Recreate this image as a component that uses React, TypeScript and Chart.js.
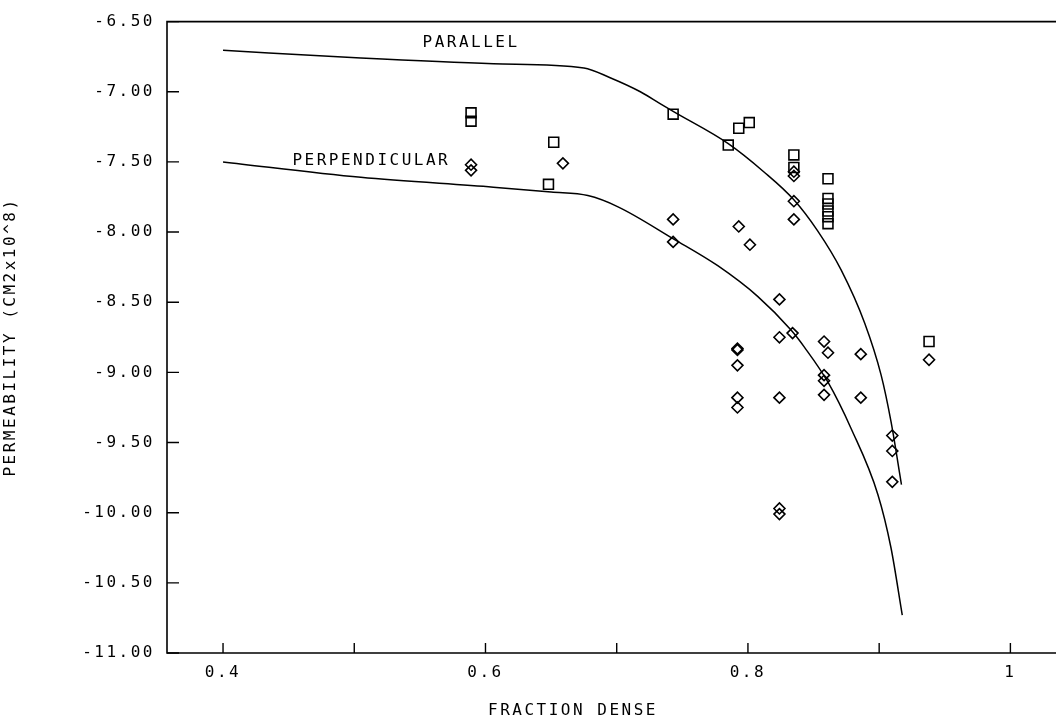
import React, { useEffect, useRef } from 'react';
import { Chart, registerables } from 'chart.js';

Chart.register(...registerables);

// ---- Data ----
const X_TICKS = [0.4, 0.5, 0.6, 0.7, 0.8, 0.9, 1.0];
const X_TICK_LABELS = ['0.4', '', '0.6', '', '0.8', '', '1'];
const Y_TICKS = [-6.5, -7.0, -7.5, -8.0, -8.5, -9.0, -9.5, -10.0, -10.5, -11.0];
const Y_TICK_LABELS = ['-6.50', '-7.00', '-7.50', '-8.00', '-8.50', '-9.00', '-9.50', '-10.00', '-10.50', '-11.00'];

const X_MIN = 0.3573;
const X_MAX = 1.0282;
const Y_MIN = -11.0;
const Y_MAX = -6.5;

// Parallel measurements (squares)
const PAR_PTS_X = [0.589, 0.589, 0.652, 0.648, 0.743, 0.785, 0.793, 0.801, 0.835, 0.835, 0.861, 0.861, 0.861, 0.861, 0.861, 0.861, 0.938];
const PAR_PTS_Y = [-7.15, -7.21, -7.36, -7.66, -7.16, -7.38, -7.26, -7.22, -7.45, -7.54, -7.62, -7.76, -7.80, -7.85, -7.89, -7.94, -8.78];

// Perpendicular measurements (diamonds)
const PERP_PTS_X = [0.589, 0.589, 0.659, 0.743, 0.743, 0.793, 0.8015, 0.835, 0.835, 0.835, 0.835, 0.824, 0.834, 0.824, 0.858, 0.861, 0.886, 0.938, 0.792, 0.792, 0.792, 0.792, 0.792, 0.824, 0.858, 0.858, 0.858, 0.886, 0.91, 0.91, 0.91, 0.824, 0.824];
const PERP_PTS_Y = [-7.52, -7.56, -7.51, -7.91, -8.07, -7.96, -8.09, -7.57, -7.60, -7.78, -7.91, -8.48, -8.72, -8.75, -8.78, -8.86, -8.87, -8.91, -8.83, -8.84, -8.95, -9.18, -9.25, -9.18, -9.02, -9.06, -9.16, -9.18, -9.45, -9.56, -9.78, -9.97, -10.01];

// Model curves
const PAR_CURVE_X = [0.4, 0.505, 0.606, 0.675, 0.695, 0.718, 0.734, 0.743, 0.785, 0.812, 0.835, 0.853, 0.871, 0.889, 0.9015, 0.909, 0.917];
const PAR_CURVE_Y = [-6.705, -6.76, -6.80, -6.83, -6.90, -7.0, -7.09, -7.14, -7.37, -7.57, -7.77, -7.99, -8.27, -8.65, -9.02, -9.35, -9.80];
const PERP_CURVE_X = [0.4, 0.505, 0.606, 0.65, 0.678, 0.701, 0.7435, 0.777, 0.8076, 0.833, 0.843, 0.861, 0.8786, 0.899, 0.909, 0.9176];
const PERP_CURVE_Y = [-7.50, -7.61, -7.68, -7.715, -7.74, -7.82, -8.05, -8.24, -8.46, -8.70, -8.82, -9.07, -9.40, -9.87, -10.25, -10.73];

// Curve labels (text + anchor in data units)
const CURVE_LABELS = ['PARALLEL', 'PERPENDICULAR'];
const CURVE_LABEL_X = [0.589, 0.513];
const CURVE_LABEL_Y = [-6.648, -7.489];

const X_TITLE = 'FRACTION DENSE';
const Y_TITLE = 'PERMEABILITY (CM2x10^8)';

const FONT_FAMILY = '"DejaVu Sans Mono", monospace';
const SPACING = '2.5px';

const zip = (xs: number[], ys: number[]) => xs.map((x, i) => ({ x, y: ys[i] }));

const framePlugin = {
  id: 'framePlugin',
  beforeDraw(chart: any) {
    chart.ctx.letterSpacing = SPACING;
  },
  afterDraw(chart: any) {
    const { ctx, chartArea: a, scales } = chart;
    ctx.save();
    ctx.strokeStyle = '#000';
    ctx.lineWidth = 1.6;
    ctx.beginPath();
    ctx.moveTo(chart.width + 2, a.top);
    ctx.lineTo(a.left, a.top);
    ctx.lineTo(a.left, a.bottom);
    ctx.lineTo(chart.width + 2, a.bottom);
    ctx.stroke();

    ctx.lineWidth = 1.4;
    ctx.beginPath();
    for (const v of X_TICKS) {
      const x = scales.x.getPixelForValue(v);
      ctx.moveTo(x, a.bottom);
      ctx.lineTo(x, a.bottom - 10);
    }
    for (const v of Y_TICKS) {
      const y = scales.y.getPixelForValue(v);
      ctx.moveTo(a.left, y);
      ctx.lineTo(a.left + 12, y);
    }
    ctx.stroke();

    ctx.fillStyle = '#000';
    ctx.letterSpacing = SPACING;
    ctx.font = `16px ${FONT_FAMILY}`;
    ctx.textAlign = 'center';
    ctx.textBaseline = 'middle';
    CURVE_LABELS.forEach((t, i) => {
      ctx.fillText(t, scales.x.getPixelForValue(CURVE_LABEL_X[i]), scales.y.getPixelForValue(CURVE_LABEL_Y[i]));
    });

    // Axis titles
    ctx.fillText(X_TITLE, 573, 711);
    ctx.translate(11, 337);
    ctx.rotate(-Math.PI / 2);
    ctx.fillText(Y_TITLE, 0, 0);
    ctx.restore();
  },
};

export default function App() {
  const ref = useRef<HTMLCanvasElement>(null);

  useEffect(() => {
    if (!ref.current) return;
    const tickFont = { family: FONT_FAMILY, size: 16 };
    const chart = new Chart(ref.current, {
      type: 'scatter',
      data: {
        datasets: [
          {
            label: 'Parallel model',
            data: zip(PAR_CURVE_X, PAR_CURVE_Y),
            showLine: true,
            borderColor: '#000',
            borderWidth: 1.5,
            pointRadius: 0,
            cubicInterpolationMode: 'monotone',
            fill: false,
          },
          {
            label: 'Perpendicular model',
            data: zip(PERP_CURVE_X, PERP_CURVE_Y),
            showLine: true,
            borderColor: '#000',
            borderWidth: 1.5,
            pointRadius: 0,
            cubicInterpolationMode: 'monotone',
            fill: false,
          },
          {
            label: 'Parallel',
            data: zip(PAR_PTS_X, PAR_PTS_Y),
            pointStyle: 'rect',
            pointRadius: 7,
            borderColor: '#000',
            borderWidth: 1.6,
            backgroundColor: 'rgba(0,0,0,0)',
          },
          {
            label: 'Perpendicular',
            data: zip(PERP_PTS_X, PERP_PTS_Y),
            pointStyle: 'rectRot',
            pointRadius: 5.5,
            borderColor: '#000',
            borderWidth: 1.6,
            backgroundColor: 'rgba(0,0,0,0)',
          },
        ],
      } as any,
      options: {
        animation: false,
        responsive: false,
        maintainAspectRatio: false,
        layout: { padding: { top: 16, left: 0, right: 0, bottom: 0 } },
        plugins: { legend: { display: false }, tooltip: { enabled: false } },
        scales: {
          x: {
            type: 'linear',
            min: X_MIN,
            max: X_MAX,
            afterBuildTicks: (s: any) => {
              s.ticks = X_TICKS.map((value) => ({ value }));
            },
            afterFit: (s: any) => {
              s.height = 71;
            },
            grid: { display: false, drawTicks: false },
            border: { display: false },
            ticks: {
              callback: (_v: any, i: number) => X_TICK_LABELS[i],
              font: tickFont,
              color: '#000',
              padding: 10,
              maxRotation: 0,
              autoSkip: false,
            },
          },
          y: {
            type: 'linear',
            min: Y_MIN,
            max: Y_MAX,
            afterBuildTicks: (s: any) => {
              s.ticks = Y_TICKS.map((value) => ({ value }));
            },
            afterFit: (s: any) => {
              s.width = 167;
            },
            grid: { display: false, drawTicks: false },
            border: { display: false },
            ticks: {
              callback: (_v: any, i: number) => Y_TICK_LABELS[i],
              font: tickFont,
              color: '#000',
              padding: 12,
              autoSkip: false,
            },
          },
        },
      } as any,
      plugins: [framePlugin],
    });
    return () => chart.destroy();
  }, []);

  return (
    <div style={{ position: 'fixed', left: 0, top: 0, width: 1056, height: 724, background: '#fff' }}>
      <canvas ref={ref} width={1056} height={724} style={{ display: 'block' }} />
    </div>
  );
}
